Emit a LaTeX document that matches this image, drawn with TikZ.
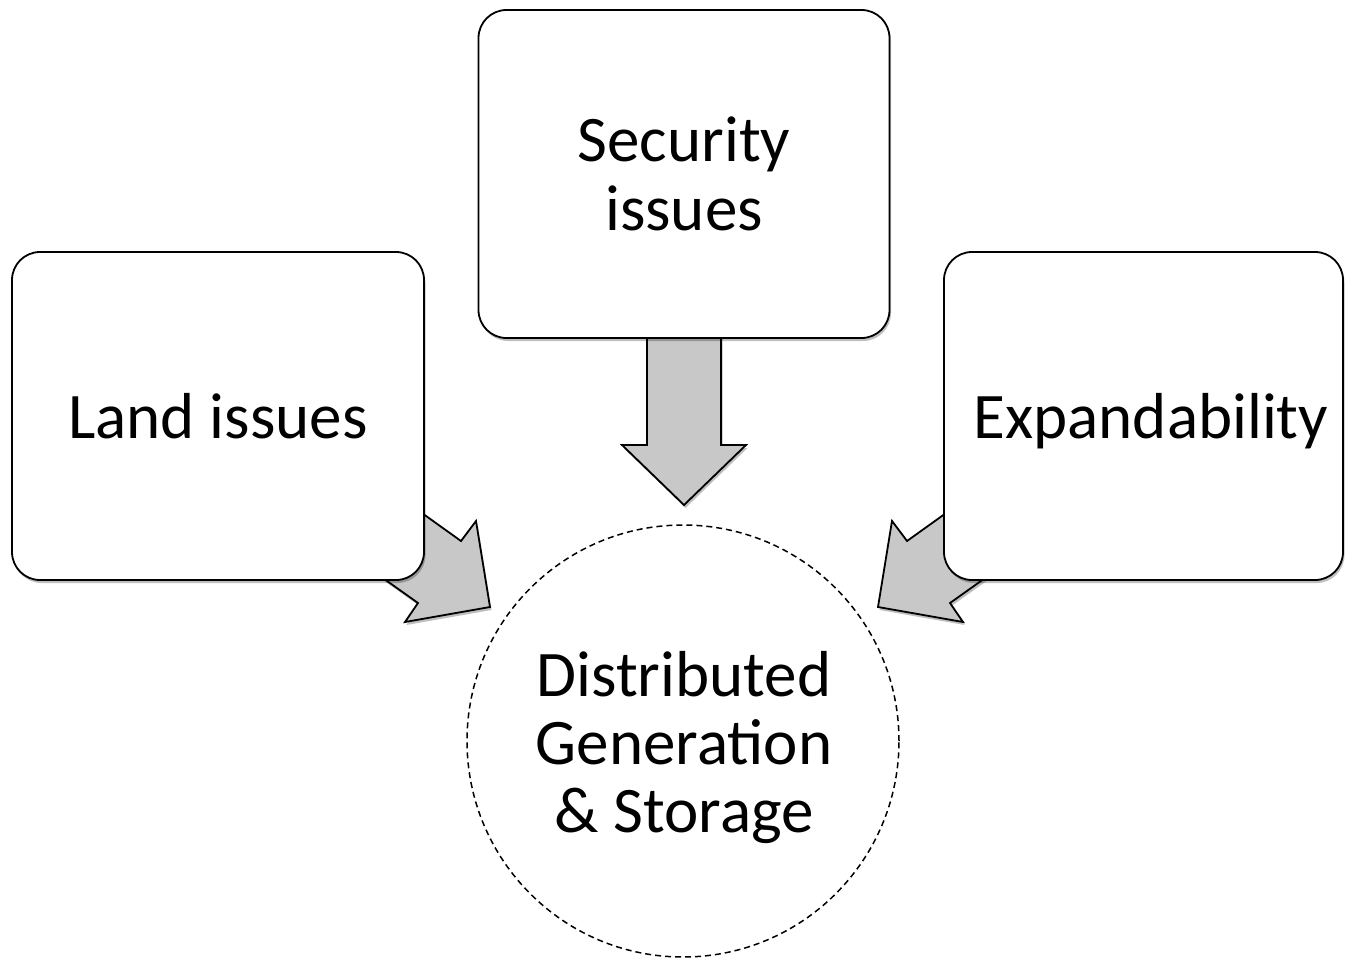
\documentclass[tikz,border=0pt]{standalone}
\usepackage{fontspec}
\setmainfont{Carlito}
\usetikzlibrary{shadows,shapes.geometric}
\definecolor{arrowgray}{RGB}{200,200,200}
\tikzset{
  softshadow/.style={drop shadow={shadow xshift=1.5pt, shadow yshift=-3pt, opacity=0.25, fill=black}},
  issuebox/.style={draw=black, line width=1.8pt, fill=white, rounded corners=28pt,
    minimum height=328pt, align=center, inner sep=0pt, softshadow,
    font=\fontsize{65}{69}\selectfont},
  blockarrow/.style={draw=black, line width=1.8pt, fill=arrowgray, line join=miter, softshadow},
  goalcircle/.style={draw=black, line width=1.5pt, dash pattern=on 6pt off 4pt, fill=white,
    circle, minimum size=432pt, inner sep=0pt},
  goaltext/.style={align=center, inner sep=0pt, font=\fontsize{65}{68}\selectfont}
}
\begin{document}
\begin{tikzpicture}[x=1pt,y=-1pt]
\useasboundingbox (0,0) rectangle (1346,962);
% goal circle
\node[goalcircle] (dg) at (683,741) {};
\node[goaltext] (dgt) at (684,748) {Distributed\\Generation\\\& Storage};
% block arrows (drawn under the boxes)
\draw[blockarrow] (647,330) -- (647,445) -- (622,445) -- (684,505) -- (746,445) -- (721,445) -- (721,330) -- cycle;
\draw[blockarrow] (380,483) -- (461,541) -- (476,521) -- (490,607) -- (405,622) -- (418,603) -- (380,576) -- cycle;
\draw[blockarrow] (988,483) -- (907,541) -- (892,521) -- (878,607) -- (963,622) -- (950,603) -- (988,576) -- cycle;
% issue boxes
\node[issuebox, minimum width=411pt] (sec) at (684,174) {Security\\issues};
\node[issuebox, minimum width=412pt, text height=45pt, text depth=0pt] (land) at (218,416) {Land issues};
\node[issuebox, minimum width=399pt, text height=45pt, text depth=0pt] (exp) at (1143.5,416) {\hspace*{15pt}Expandability};
\end{tikzpicture}
\end{document}
